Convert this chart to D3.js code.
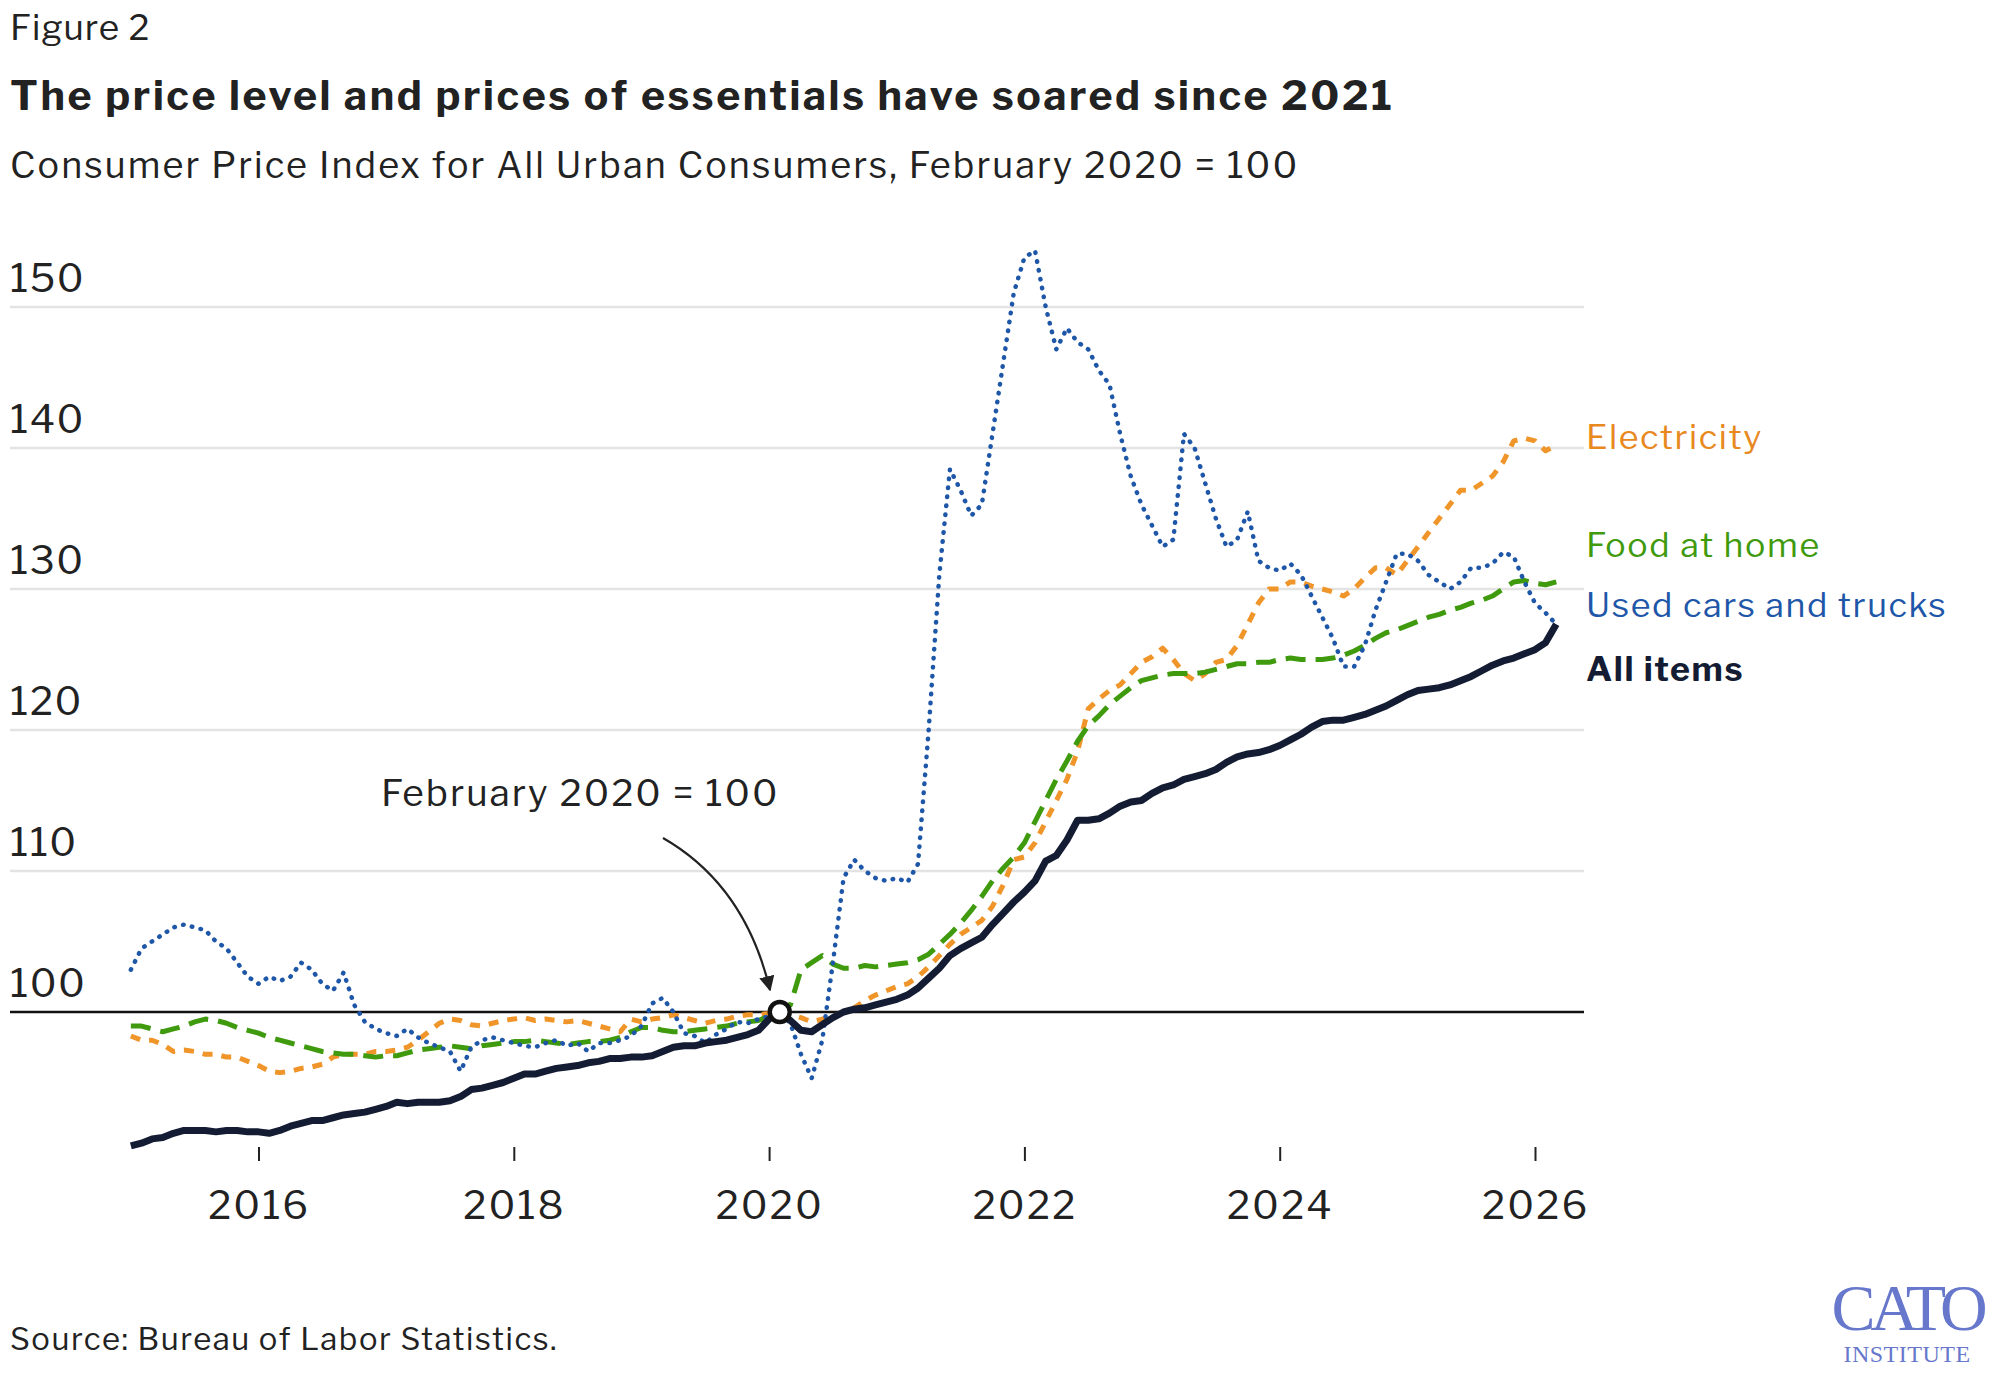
<!DOCTYPE html>
<html><head><meta charset="utf-8">
<script src="https://cdn.jsdelivr.net/npm/d3@7"></script>
<style>body{margin:0;background:#fff}svg{display:block}text{font-family:"Libre Franklin","Noto Sans",sans-serif}</style>
</head><body><svg id="c" width="1997" height="1376"></svg>
<script>
const startYear = 2015;
const allItems = [90.5,90.7,91.0,91.1,91.4,91.6,91.6,91.6,91.5,91.6,91.6,91.5,
91.5,91.4,91.6,91.9,92.1,92.3,92.3,92.5,92.7,92.8,92.9,93.1,
93.3,93.6,93.5,93.6,93.6,93.6,93.7,94.0,94.5,94.6,94.8,95.0,
95.3,95.6,95.6,95.8,96.0,96.1,96.2,96.4,96.5,96.7,96.7,96.8,
96.8,96.9,97.2,97.5,97.6,97.6,97.8,97.9,98.0,98.2,98.4,98.7,
99.5,100,99.4,98.7,98.6,99.1,99.6,100.0,100.2,100.3,100.5,100.7,
100.9,101.2,101.7,102.4,103.1,104.0,104.5,104.9,105.3,106.2,107.0,107.8,
108.5,109.3,110.7,111.1,112.2,113.6,113.6,113.7,114.1,114.6,114.9,115.0,
115.5,115.9,116.1,116.5,116.7,116.9,117.2,117.7,118.1,118.3,118.4,118.6,
118.9,119.3,119.7,120.2,120.6,120.7,120.7,120.9,121.1,121.4,121.7,122.1,
122.5,122.8,122.9,123.0,123.2,123.5,123.8,124.2,124.6,124.9,125.1,125.4,
125.7,126.2,127.5];
const usedCars = [103,104.5,105,105.5,106,106.2,106,105.8,105,104.5,103.5,102.5,
102,102.5,102.2,102.5,103.5,103,102,101.5,102.8,100.5,99.3,98.8,
98.5,98.3,98.8,98.2,97.8,97.5,97.2,95.8,97.5,98,98.2,98,
97.8,97.6,97.5,97.8,98.0,97.6,97.8,97.2,97.8,97.8,98.0,98.3,
99.0,100.6,101.0,100.0,98.5,98.3,97.8,98.4,98.8,99.3,99.2,99.5,
99.7,100,99.2,97.0,95.3,98.0,103.5,109.5,110.8,110.0,109.5,109.3,
109.5,109.2,110.5,120,131,138.5,137,135.2,136,141,146,151,
153.5,154,150,147,148.5,147.5,147,145.5,144.5,141,138,136,
134.5,133,133.5,141,140,137.5,135,133,133.5,135.5,132,131.5,
131.3,131.8,131,129.5,128,126.5,124.5,124.5,126,128.5,130.5,132.5,
132.5,132,131,130.5,130,130.5,131.5,131.5,131.8,132.6,132.3,130.5,
129,128.3,127.5];
const electricity = [98.3,98,98,97.7,97.2,97.3,97.2,97,97,96.8,96.8,96.5,
96.2,95.8,95.7,95.8,96,96.1,96.3,96.8,97,97,97,97.2,
97.2,97.3,97.5,98,98.6,99.2,99.5,99.4,99.1,99,99.2,99.4,
99.5,99.6,99.4,99.5,99.4,99.3,99.4,99.2,99.0,98.8,98.6,99.5,
99.3,99.5,99.6,99.8,99.6,99.4,99.2,99.4,99.5,99.7,99.8,99.8,
99.9,100,99.8,99.6,99.3,99.5,99.7,100.0,100.3,100.8,101.2,101.5,
101.8,102,102.5,103.2,104,104.8,105.5,106,106.5,107.5,109,110.8,
111,112,113.5,115,116.5,118.5,121.5,122.2,122.8,123.2,124,124.8,
125.2,125.8,125,124,123.5,124,124.8,125,126,127.5,129,130,
130,130.5,130.5,130.2,130,129.8,129.5,130,130.8,131.5,131.5,131,
132,133,134,135,136,137,137,137.5,138,139,140.5,140.7,
140.5,139.8,140.2];
const foodAtHome = [99,99,98.8,98.6,98.8,99,99.3,99.5,99.4,99.2,98.9,98.7,
98.5,98.2,98,97.8,97.6,97.4,97.2,97.1,97,97,96.9,96.8,
96.9,96.9,97.1,97.3,97.4,97.5,97.6,97.5,97.4,97.6,97.7,97.8,
97.9,97.9,98,97.9,97.8,97.7,97.8,97.9,97.9,98,98.2,98.6,
98.9,98.9,98.7,98.6,98.6,98.7,98.8,98.9,99.0,99.2,99.3,99.4,
99.7,100,100.5,103,103.5,104,103.4,103.1,103.1,103.3,103.2,103.3,
103.4,103.5,103.7,104.1,104.8,105.5,106.3,107.2,108.2,109.3,110.2,111,
112,113.5,115,116.5,117.8,119.2,120.3,121,121.8,122.4,123,123.5,
123.7,123.9,124,124,124,124.1,124.3,124.5,124.7,124.7,124.8,124.8,
125,125.1,125,125,125,125.1,125.3,125.6,126,126.5,126.9,127.1,
127.4,127.7,128,128.2,128.5,128.7,129,129.2,129.5,130,130.5,130.6,
130.4,130.3,130.5];
const yTicks = [100,110,120,130,140,150];
const xTicks = [2016,2018,2020,2022,2024,2026];
const seriesNames = ["Electricity","Food at home","Used cars and trucks","All items"];

const svg = d3.select("#c");
const x = d3.scaleLinear().domain([2016,2026]).range([258.5,1535]);
const y = d3.scaleLinear().domain([100,150]).range([1012,307]);

svg.append("text").attr("x",10).attr("y",40).attr("font-size",35).attr("letter-spacing",1).attr("fill","#222").text("Figure 2");
svg.append("text").attr("x",10).attr("y",110).attr("font-size",41).attr("letter-spacing",2.6).attr("font-weight","bold").attr("fill","#222").text("The price level and prices of essentials have soared since 2021");
svg.append("text").attr("x",10).attr("y",178).attr("font-size",36).attr("letter-spacing",2.1).attr("fill","#222").text("Consumer Price Index for All Urban Consumers, February 2020 = 100");

svg.append("g").selectAll("line").data(yTicks.filter(d=>d!==100)).join("line")
 .attr("x1",10).attr("x2",1584).attr("y1",d=>y(d)).attr("y2",d=>y(d)).attr("stroke","#e3e3e3").attr("stroke-width",2.5);
svg.append("g").selectAll("text").data(yTicks).join("text")
 .attr("x",10).attr("y",d=>y(d)-15).attr("font-size",39).attr("letter-spacing",1.5).attr("fill","#222").text(d=>d);
svg.append("line").attr("x1",10).attr("x2",1584).attr("y1",y(100)).attr("y2",y(100)).attr("stroke","#111").attr("stroke-width",2.5);

const xAxis = d3.axisBottom(x).tickValues(xTicks).tickFormat(d3.format("d")).tickSize(14).tickPadding(30);
const gx = svg.append("g").attr("transform","translate(0,1147)").call(xAxis);
gx.select(".domain").remove();
gx.selectAll("line").attr("stroke","#222").attr("stroke-width",2);
gx.selectAll("text").attr("font-size",39).attr("letter-spacing",2).attr("fill","#222");

const line = d3.line().x((d,i)=>x(startYear+i/12)).y(d=>y(d)).curve(d3.curveLinear);
const specs = [
 {data:electricity,color:"#f0952a",w:5,dash:"10,9"},
 {data:foodAtHome,color:"#3f9a0e",w:5,dash:"20,10"},
 {data:usedCars,color:"#1f57a8",w:4.5,dash:"0.5,8.5",cap:"round"},
 {data:allItems,color:"#141c33",w:7,dash:null}
];
specs.forEach(s=>{
 svg.append("path").datum(s.data).attr("d",line).attr("fill","none").attr("stroke",s.color)
  .attr("stroke-width",s.w).attr("stroke-dasharray",s.dash).attr("stroke-linecap",s.cap||"butt").attr("stroke-linejoin","round");
});

const labY = [437,545,605,669];
const labC = ["#e8891f","#3f9a0e","#1f57a8","#141c33"];
seriesNames.forEach((n,i)=>svg.append("text").attr("x",1586).attr("y",labY[i]+12).attr("font-size",34).attr("letter-spacing",1.6)
 .attr("fill",labC[i]).attr("font-weight",i===3?"bold":"normal").text(n));

svg.append("defs").append("marker").attr("id","ah").attr("viewBox","0 0 10 10").attr("refX",9).attr("refY",5)
 .attr("markerWidth",7).attr("markerHeight",7).attr("orient","auto").append("path").attr("d","M0,0L10,5L0,10z").attr("fill","#222");
svg.append("path").attr("d","M663,838 Q745,885 770,990").attr("fill","none").attr("stroke","#222").attr("stroke-width",2.2).attr("marker-end","url(#ah)");
svg.append("text").attr("x",381).attr("y",806).attr("font-size",37).attr("letter-spacing",2).attr("fill","#222").text("February 2020 = 100");
svg.append("circle").attr("cx",x(2020+1/12)).attr("cy",y(100)).attr("r",10).attr("fill","#fff").attr("stroke","#111").attr("stroke-width",4.5);

svg.append("text").attr("x",10).attr("y",1350).attr("font-size",31).attr("letter-spacing",1.5).attr("fill","#222").text("Source: Bureau of Labor Statistics.");
svg.append("text").attr("x",1907).attr("y",1330).attr("text-anchor","middle").style("font-family","'Liberation Serif','DejaVu Serif',serif")
 .attr("font-size",66).attr("letter-spacing",-5).attr("fill","#6677cc").text("CATO");
svg.append("text").attr("x",1907).attr("y",1362).attr("text-anchor","middle").style("font-family","'Liberation Serif',serif")
 .attr("font-size",24).attr("letter-spacing",0.5).attr("fill","#6677cc").text("INSTITUTE");
</script></body></html>
